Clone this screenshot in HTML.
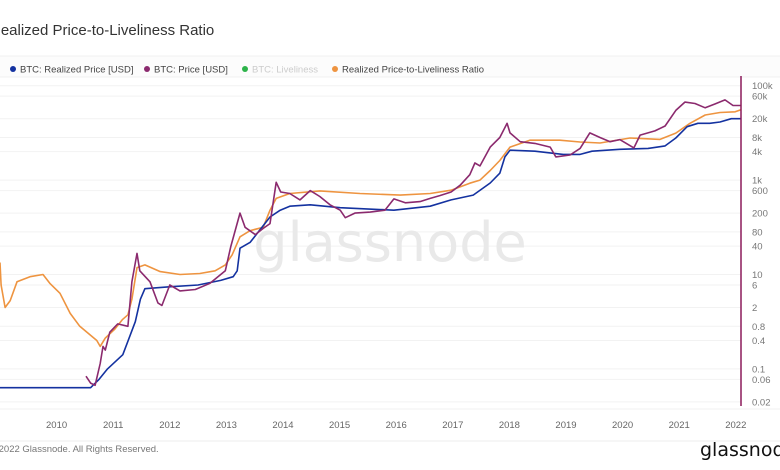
<!DOCTYPE html>
<html><head><meta charset="utf-8">
<style>
html,body{margin:0;padding:0;background:#fff;width:780px;height:470px;overflow:hidden;font-family:"Liberation Sans",sans-serif;}
</style></head>
<body>
<svg id="chart" width="780" height="470" viewBox="0 0 780 470" xmlns="http://www.w3.org/2000/svg">
  <text x="-10" y="35" font-size="15" fill="#333" font-family="Liberation Sans, sans-serif">Realized Price-to-Liveliness Ratio</text>
  <rect x="0" y="56" width="780" height="21" fill="#fcfcfc"/>
  <line x1="0" y1="56" x2="780" y2="56" stroke="#f0f0f0"/>
  <line x1="0" y1="77" x2="780" y2="77" stroke="#f0f0f0"/>
  <g>
    <circle cx="13" cy="69" r="3" fill="#1432a0"/>
    <text x="20" y="72.5" font-size="9.5" fill="#444">BTC: Realized Price [USD]</text>
  </g>
  <g>
    <circle cx="147" cy="69" r="3" fill="#8b2a6e"/>
    <text x="154" y="72.5" font-size="9.5" fill="#444">BTC: Price [USD]</text>
  </g>
  <g>
    <circle cx="245" cy="69" r="3" fill="#2db34a"/>
    <text x="252" y="72.5" font-size="9.5" fill="#ccc">BTC: Liveliness</text>
  </g>
  <g>
    <circle cx="335" cy="69" r="3" fill="#ee9440"/>
    <text x="342" y="72.5" font-size="9.5" fill="#444">Realized Price-to-Liveliness Ratio</text>
  </g>
  <g id="grid"></g>
  <text x="390" y="261" text-anchor="middle" font-size="54" fill="#e9e9e9" font-family="DejaVu Sans, sans-serif">glassnode</text>
  <g id="series"></g>
  <line x1="741" y1="76" x2="741" y2="406" stroke="#8b1a5a" stroke-width="1.5"/>
  <g id="yaxis"></g>
  <g id="xaxis"></g>
  <line x1="0" y1="409" x2="780" y2="409" stroke="#f0f0f0"/>
  <line x1="0" y1="441" x2="780" y2="441" stroke="#ececec"/>
  <text x="-11" y="452" font-size="9.5" fill="#777">© 2022 Glassnode. All Rights Reserved.</text>
  <text x="700" y="456" font-size="19" fill="#111" font-family="DejaVu Sans, sans-serif">glassnod</text>
</svg>
<script>
const yTicks=[100000,60000,20000,8000,4000,1000,600,200,80,40,10,6,2,0.8,0.4,0.1,0.06,0.02];
const yTickLabels=["100k","60k","20k","8k","4k","1k","600","200","80","40","10","6","2","0.8","0.4","0.1","0.06","0.02"];
const xTicks=[2010,2011,2012,2013,2014,2015,2016,2017,2018,2019,2020,2021,2022];

const realizedDates=[2009.0,2010.6,2010.75,2010.9,2011.17,2011.39,2011.48,2011.56,2011.99,2012.5,2012.9,2013.12,2013.19,2013.24,2013.42,2013.77,2013.95,2014.12,2014.48,2015.01,2015.96,2016.6,2016.97,2017.36,2017.66,2017.83,2017.92,2018.01,2018.45,2018.95,2019.25,2019.46,2019.95,2020.45,2020.75,2020.94,2021.14,2021.33,2021.54,2021.72,2021.92,2022.09];
const realizedValues=[0.04,0.04,0.06,0.1,0.2,1,3,5,5.5,6,7.5,9,12,36,48,165,230,280,300,260,230,280,380,480,870,1400,3100,4300,4100,3500,3500,4100,4500,4700,5300,7800,13500,16000,16000,17000,20000,20000];

const priceDates=[2010.52,2010.6,2010.68,2010.77,2010.82,2010.86,2010.94,2011.08,2011.26,2011.33,2011.42,2011.47,2011.65,2011.79,2011.86,2012.0,2012.18,2012.45,2012.71,2012.98,2013.08,2013.24,2013.33,2013.51,2013.65,2013.77,2013.88,2013.96,2014.12,2014.3,2014.48,2014.65,2014.83,2015.01,2015.1,2015.27,2015.54,2015.8,2015.96,2016.16,2016.42,2016.6,2016.77,2016.97,2017.13,2017.3,2017.39,2017.48,2017.66,2017.83,2017.96,2018.01,2018.19,2018.45,2018.72,2018.82,2019.07,2019.25,2019.42,2019.6,2019.78,2019.95,2020.2,2020.31,2020.57,2020.75,2020.94,2021.1,2021.28,2021.46,2021.63,2021.81,2021.95,2022.09];
const priceValues=[0.07,0.05,0.045,0.13,0.3,0.25,0.6,0.9,0.8,7,28,12,7,2.5,2.2,6,4.5,4.8,6.5,12,40,200,100,70,95,120,900,560,520,380,600,450,300,230,160,200,210,230,400,330,350,410,470,560,780,1300,2300,2000,5000,8000,16000,10000,6500,6000,5000,3100,3400,4700,10000,8000,6500,7200,4800,9000,11000,14000,30000,45000,42000,34000,41000,50000,38000,38000];

const ratioDates=[2009.0,2009.02,2009.09,2009.18,2009.3,2009.53,2009.76,2009.88,2010.06,2010.24,2010.41,2010.71,2010.77,2010.86,2011.03,2011.16,2011.26,2011.33,2011.42,2011.56,2011.83,2012.18,2012.53,2012.8,2012.98,2013.1,2013.24,2013.42,2013.65,2013.77,2013.88,2014.12,2014.65,2015.36,2016.07,2016.6,2016.97,2017.3,2017.48,2017.66,2017.83,2018.01,2018.36,2018.89,2019.25,2019.6,2020.13,2020.66,2020.94,2021.19,2021.46,2021.72,2021.99,2022.09];
const ratioValues=[18,6,2,2.8,7,9,10,6.5,4,1.5,0.8,0.4,0.3,0.45,0.7,1.1,1.4,3,14,16,11.5,10,10.5,12,16,26,63,85,100,230,410,520,590,520,480,520,610,860,1000,1600,2600,5000,7000,7000,6400,6100,7800,7300,9900,16000,24000,27000,28000,31000];

const ns="http://www.w3.org/2000/svg";
const X0=0, PX_PER_YEAR=56.6;
function xScale(year){return X0+(year-2009)*PX_PER_YEAR;}
const YTOP=85.7, PX_PER_DEC=47.2;
function yScale(v){return YTOP+(5-Math.log10(v))*PX_PER_DEC;}

const grid=document.getElementById('grid');
const yaxis=document.getElementById('yaxis');
yTicks.forEach((t,i)=>{
  const y=yScale(t);
  const l=document.createElementNS(ns,'line');
  
  
  l.setAttribute('x1',0);l.setAttribute('x2',741);
  l.setAttribute('y1',y);l.setAttribute('y2',y);
  l.setAttribute('stroke','#f2f2f2');l.setAttribute('stroke-width','1');
  grid.appendChild(l);
  const tx=document.createElementNS(ns,'text');
  
  
  tx.setAttribute('x',752);tx.setAttribute('y',y+3.5);
  tx.setAttribute('font-size','9.5');tx.setAttribute('fill','#777');
  tx.textContent=yTickLabels[i];
  yaxis.appendChild(tx);
});
const xaxis=document.getElementById('xaxis');
xTicks.forEach(t=>{
  const tx=document.createElementNS(ns,'text');
  
  
  tx.setAttribute('x',xScale(t));tx.setAttribute('y',428);
  tx.setAttribute('text-anchor','middle');
  tx.setAttribute('font-size','9.5');tx.setAttribute('fill','#666');
  tx.textContent=String(t);
  xaxis.appendChild(tx);
});

const series=document.getElementById('series');
function drawLine(dates,vals,color,name){
  const p=document.createElementNS(ns,'path');
  let d='';
  dates.forEach((dt,i)=>{d+=(i?'L':'M')+xScale(dt).toFixed(1)+' '+yScale(vals[i]).toFixed(1);});
  p.setAttribute('d',d);
  p.setAttribute('fill','none');
  p.setAttribute('stroke',color);
  p.setAttribute('stroke-width','1.6');
  p.setAttribute('stroke-linejoin','round');
  
  
  series.appendChild(p);
}
drawLine(ratioDates,ratioValues,'#ee9440','ratio-line');
drawLine(realizedDates,realizedValues,'#1432a0','realized-price-line');
drawLine(priceDates,priceValues,'#8b2a6e','price-line');
</script>
</body></html>
